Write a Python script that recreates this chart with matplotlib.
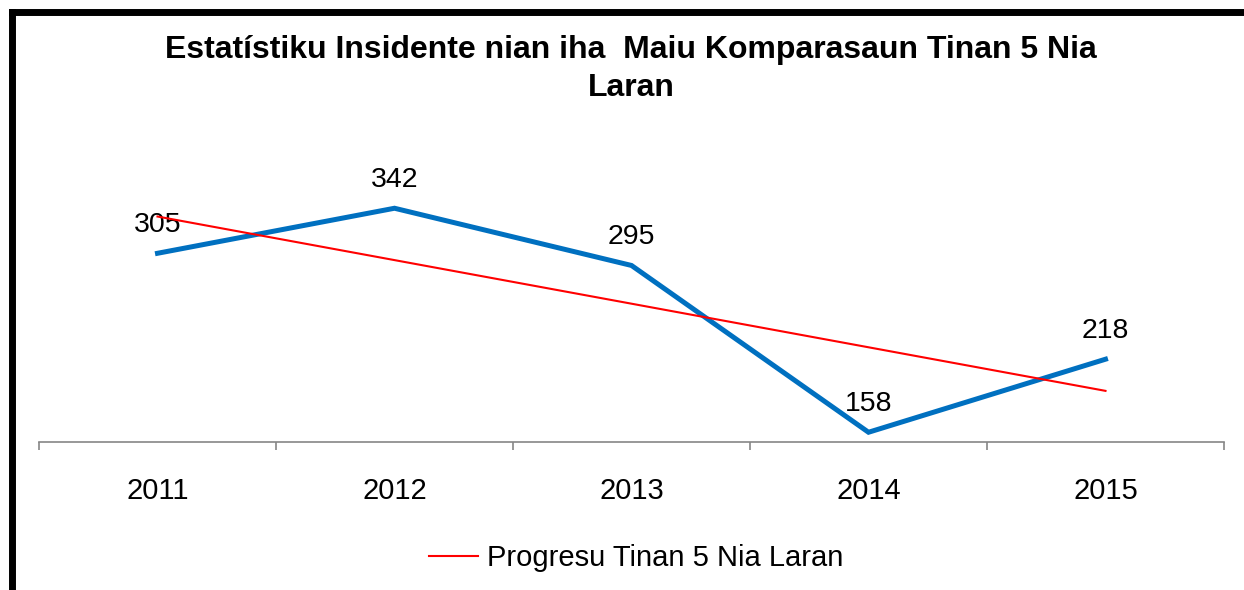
import matplotlib
matplotlib.use('Agg')
import matplotlib.pyplot as plt
import numpy as np
from matplotlib.lines import Line2D

plt.rcParams['font.family'] = ['Liberation Sans', 'DejaVu Sans']

years = ['2011', '2012', '2013', '2014', '2015']
incidents = [305, 342, 295, 158, 218]
title = 'Estatístiku Insidente nian iha  Maiu Komparasaun Tinan 5 Nia\nLaran'
trend_label = 'Progresu Tinan 5 Nia Laran'

W, H = 1244, 590
fig = plt.figure(figsize=(W / 100, H / 100), dpi=100)
ax = fig.add_axes([39 / W, 148 / H, 1185 / W, 243.5 / H])

x = np.arange(1, len(years) + 1)
ax.plot(x, incidents, color='#0070C0', lw=3.6, solid_joinstyle='miter', zorder=3)

# linear trendline, like the spreadsheet one
k, b = np.polyfit(x, incidents, 1)
ax.plot(x, k * x + b, color='#FF0000', lw=1.5, label=trend_label, zorder=4)

for xi, v in zip(x, incidents):
    ax.annotate(str(v), (xi, v), xytext=(0, 20.5), textcoords='offset points',
                ha='center', va='center', fontsize=20.5)

ax.set_xlim(0.5, len(years) + 0.5)
ax.set_ylim(150, 350)
for s in ['left', 'right', 'top']:
    ax.spines[s].set_visible(False)
ax.spines['bottom'].set_color('#868686')
ax.spines['bottom'].set_linewidth(1.2)
ax.set_yticks([])
ax.set_xticks(x)
ax.set_xticklabels(years, fontsize=21)
ax.tick_params(axis='x', which='major', length=0, pad=25.5)
ax.set_xticks(np.arange(0.5, len(years) + 1), minor=True)
ax.tick_params(axis='x', which='minor', length=6, width=1.2, color='#868686')

fig.text(631 / W, 1 - 69 / H, title, ha='center', va='center',
         fontsize=23, fontweight='bold', linespacing=1.33)

fig.legend(loc='center', bbox_to_anchor=(636 / W, 32 / H), frameon=False,
           fontsize=21, handlelength=1.7, handletextpad=0.3)

# black frame on left and top
lx, ty = 11.5 / W, 1 - 12 / H
fig.add_artist(Line2D([lx, lx], [-0.05, ty], color='black', lw=5,
                      solid_capstyle='projecting', transform=fig.transFigure))
fig.add_artist(Line2D([lx, 1.05], [ty, ty], color='black', lw=5,
                      solid_capstyle='projecting', transform=fig.transFigure))

fig.savefig('out.png', dpi=100)
